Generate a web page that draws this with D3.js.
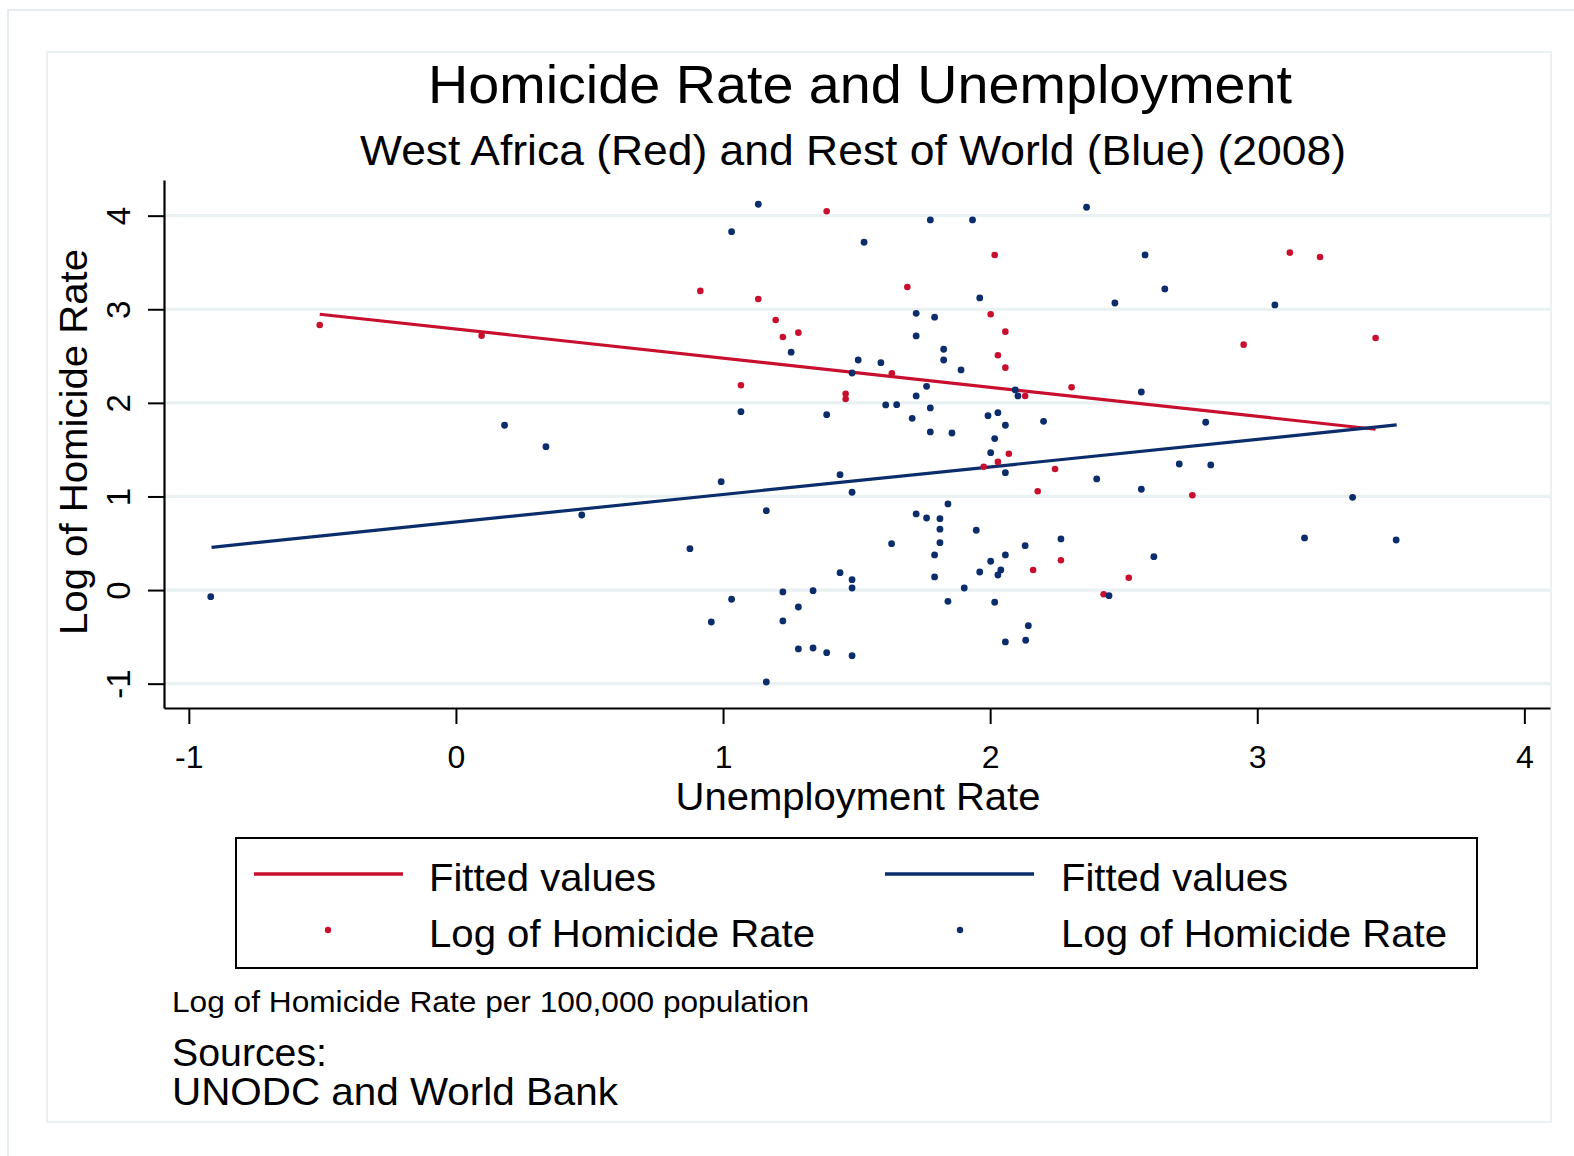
<!DOCTYPE html>
<html>
<head>
<meta charset="utf-8">
<script src="https://cdn.jsdelivr.net/npm/d3@7"></script>
<style>
  html, body { margin: 0; padding: 0; background: #ffffff; }
  svg { display: block; }
  text { font-family: "Liberation Sans", Arial, Helvetica, sans-serif; fill: #000; }
</style>
</head>
<body>
<svg id="chart" width="1574" height="1156"></svg>
<script>
// ---------------- DATA ----------------
const titleText = "Homicide Rate and Unemployment";
const subtitleText = "West Africa (Red) and Rest of World (Blue) (2008)";
const xAxisTitle = "Unemployment Rate";
const yAxisTitle = "Log of Homicide Rate";
const legendLabels = ["Fitted values", "Log of Homicide Rate", "Fitted values", "Log of Homicide Rate"];
const noteLines = ["Log of Homicide Rate per 100,000 population", "Sources:", "UNODC and World Bank"];

const xTicks = [-1, 0, 1, 2, 3, 4];
const yTicks = [-1, 0, 1, 2, 3, 4];

// West Africa (red)
const redX = [-0.510, 0.096, 1.388, 2.017, 0.915, 1.132, 1.690, 1.197, 1.224, 1.282,
              2.002, 2.057, 2.029, 2.057, 1.632, 1.067, 2.305, 1.459, 1.459, 2.131,
              2.070, 2.029, 1.976, 2.243, 2.178, 2.265, 2.161, 3.122, 3.235, 2.949,
              3.443, 2.757, 2.519, 2.425];
const redY = [2.832, 2.718, 4.047, 3.580, 3.196, 3.110, 3.238, 2.886, 2.704, 2.750,
              2.947, 2.761, 2.509, 2.376, 2.316, 2.188, 2.167, 2.098, 2.042, 2.074,
              1.457, 1.369, 1.318, 1.294, 1.056, 0.318, 0.215, 3.605, 3.559, 2.622,
              2.693, 1.013, 0.132, -0.045];

// Rest of World (blue)
const blueX = [0.337, 0.182, 0.471, -0.918, 1.132, 1.032, 1.528, 1.776, 1.934, 2.361,
               1.961, 1.723, 1.792, 1.723, 1.255, 1.826, 1.826, 1.506, 1.591, 1.891,
               1.483, 1.762, 1.723, 2.094, 2.104, 1.609, 1.650, 1.776, 1.067, 1.388,
               1.708, 1.992, 2.029, 2.057, 2.200, 1.776, 1.857, 2.017, 2.002, 2.057,
               2.399, 0.993, 1.438, 1.483, 1.162, 1.842, 1.723, 1.762, 1.812, 1.812,
               1.948, 0.876, 1.631, 1.812, 1.792, 2.131, 2.265, 2.057, 2.002, 1.961,
               2.040, 2.029, 1.438, 1.483, 1.483, 1.792, 1.903, 1.032, 1.224, 1.337,
               1.282, 1.842, 2.017, 0.956, 1.224, 2.143, 2.057, 2.133, 1.282, 1.337,
               1.388, 1.483, 1.162, 2.580, 2.654, 2.467, 3.066, 2.566, 2.807, 2.708,
               2.826, 2.566, 3.357, 3.177, 3.520, 2.613, 2.445];
const blueY = [1.532, 1.761, 0.802, -0.071, 4.122, 3.829, 3.716, 3.954, 3.954, 4.090,
               3.121, 2.957, 2.915, 2.715, 2.541, 2.573, 2.458, 2.458, 2.429, 2.352,
               2.319, 2.177, 2.074, 2.138, 2.074, 1.978, 1.981, 1.946, 1.906, 1.874,
               1.835, 1.863, 1.895, 1.761, 1.803, 1.689, 1.678, 1.618, 1.468, 1.254,
               1.187, 1.158, 1.233, 1.045, 0.848, 0.920, 0.813, 0.770, 0.763, 0.650,
               0.639, 0.442, 0.496, 0.506, 0.375, 0.474, 0.546, 0.375, 0.308, 0.193,
               0.215, 0.161, 0.186, 0.111, 0.022, 0.140, 0.022, -0.098, -0.020, -0.006,
               -0.181, -0.120, -0.130, -0.341, -0.330, -0.380, -0.554, -0.536, -0.629, -0.619,
               -0.669, -0.701, -0.982, 3.580, 3.217, 3.067, 3.046, 2.116, 1.793, 1.347,
               1.337, 1.077, 0.991, 0.557, 0.535, 0.357, -0.060];

// Fitted values (end points)
const redFitX = [-0.510, 3.443];
const redFitY = [2.947, 1.718];
const blueFitX = [-0.915, 3.522];
const blueFitY = [0.457, 1.764];

// ---------------- STYLE ----------------
const RED = "#c8102e";
const BLUE = "#0b2d6b";
const GRID = "#e9f1f3";
const FRAME = "#e6edf0";

const svg = d3.select("#chart");

// background frames
svg.append("rect").attr("x", 0).attr("y", 0).attr("width", 1574).attr("height", 1156).attr("fill", "#fff");
svg.append("rect").attr("x", 8).attr("y", 10).attr("width", 1574).attr("height", 1160)
  .attr("fill", "#fff").attr("stroke", FRAME).attr("stroke-width", 2);
svg.append("rect").attr("x", 47).attr("y", 52).attr("width", 1504).attr("height", 1070)
  .attr("fill", "#fff").attr("stroke", FRAME).attr("stroke-width", 1.5);

// scales
const plot = { left: 164, right: 1550, top: 180, bottom: 708 };
const x = d3.scaleLinear().domain([-1.093, 4.096]).range([plot.left, plot.right]);
const y = d3.scaleLinear().domain([-1.26, 4.381]).range([plot.bottom, plot.top]);

// gridlines
svg.append("g").selectAll("line").data(yTicks).join("line")
  .attr("x1", plot.left).attr("x2", plot.right)
  .attr("y1", d => y(d)).attr("y2", d => y(d))
  .attr("stroke", GRID).attr("stroke-width", 3.2);

// fitted lines
const line = d3.line().x(d => x(d[0])).y(d => y(d[1]));
svg.append("path").datum(redFitX.map((v, i) => [v, redFitY[i]]))
  .attr("d", line).attr("fill", "none").attr("stroke", RED).attr("stroke-width", 3.2);
svg.append("path").datum(blueFitX.map((v, i) => [v, blueFitY[i]]))
  .attr("d", line).attr("fill", "none").attr("stroke", BLUE).attr("stroke-width", 3.2);

// points
svg.append("g").selectAll("circle").data(redX.map((v, i) => [v, redY[i]])).join("circle")
  .attr("cx", d => x(d[0])).attr("cy", d => y(d[1])).attr("r", 3.3).attr("fill", RED);
svg.append("g").selectAll("circle").data(blueX.map((v, i) => [v, blueY[i]])).join("circle")
  .attr("cx", d => x(d[0])).attr("cy", d => y(d[1])).attr("r", 3.4).attr("fill", BLUE);

// axes
const xAxis = svg.append("g").attr("transform", `translate(0,${plot.bottom})`)
  .call(d3.axisBottom(x).tickValues(xTicks).tickSize(16).tickSizeOuter(0).tickFormat(d => String(d)));
xAxis.select(".domain").attr("stroke", "#000").attr("stroke-width", 2.2);
xAxis.selectAll(".tick line").attr("stroke", "#000").attr("stroke-width", 2);
xAxis.selectAll(".tick text").attr("y", 60).attr("dy", 0)
  .attr("font-size", 32).attr("font-family", "Liberation Sans, Arial, sans-serif").attr("fill", "#000");

const yAxis = svg.append("g").attr("transform", `translate(${plot.left},0)`)
  .call(d3.axisLeft(y).tickValues(yTicks).tickSize(16).tickSizeOuter(0).tickFormat(d => String(d)));
yAxis.select(".domain").attr("stroke", "#000").attr("stroke-width", 2.2);
yAxis.selectAll(".tick line").attr("stroke", "#000").attr("stroke-width", 2);
yAxis.selectAll(".tick text")
  .attr("x", 0).attr("dy", 0).attr("text-anchor", "middle")
  .attr("transform", "translate(-34,0) rotate(-90)")
  .attr("font-size", 33).attr("font-family", "Liberation Sans, Arial, sans-serif").attr("fill", "#000");

// titles
svg.append("text").attr("x", 860).attr("y", 103).attr("text-anchor", "middle")
  .attr("font-size", 53).attr("textLength", 864).attr("lengthAdjust", "spacingAndGlyphs").text(titleText);
svg.append("text").attr("x", 853).attr("y", 165).attr("text-anchor", "middle")
  .attr("font-size", 43).attr("textLength", 986).attr("lengthAdjust", "spacingAndGlyphs").text(subtitleText);
svg.append("text").attr("x", 858).attr("y", 810).attr("text-anchor", "middle")
  .attr("font-size", 38).attr("textLength", 365).attr("lengthAdjust", "spacingAndGlyphs").text(xAxisTitle);
svg.append("text").attr("transform", "translate(87,442) rotate(-90)").attr("text-anchor", "middle")
  .attr("font-size", 39).attr("textLength", 386).attr("lengthAdjust", "spacingAndGlyphs").text(yAxisTitle);

// legend
const lg = svg.append("g");
lg.append("rect").attr("x", 236).attr("y", 838).attr("width", 1241).attr("height", 130)
  .attr("fill", "#fff").attr("stroke", "#000").attr("stroke-width", 2);
const legendItems = [
  { type: "line", color: RED, sx: 254, tx: 429, ty: 891, label: legendLabels[0], w: 227 },
  { type: "dot",  color: RED, sx: 328, tx: 429, ty: 947, label: legendLabels[1], w: 386 },
  { type: "line", color: BLUE, sx: 885, tx: 1061, ty: 891, label: legendLabels[2], w: 227 },
  { type: "dot",  color: BLUE, sx: 960, tx: 1061, ty: 947, label: legendLabels[3], w: 386 }
];
legendItems.forEach(it => {
  if (it.type === "line") {
    lg.append("line").attr("x1", it.sx).attr("x2", it.sx + 149).attr("y1", 874).attr("y2", 874)
      .attr("stroke", it.color).attr("stroke-width", 3.3);
  } else {
    lg.append("circle").attr("cx", it.sx).attr("cy", 930).attr("r", 3.2).attr("fill", it.color);
  }
  lg.append("text").attr("x", it.tx).attr("y", it.ty).attr("font-size", 39)
    .attr("textLength", it.w).attr("lengthAdjust", "spacingAndGlyphs").text(it.label);
});

// notes
svg.append("text").attr("x", 172).attr("y", 1012).attr("font-size", 30)
  .attr("textLength", 637).attr("lengthAdjust", "spacingAndGlyphs").text(noteLines[0]);
svg.append("text").attr("x", 172).attr("y", 1066).attr("font-size", 39)
  .attr("textLength", 155).attr("lengthAdjust", "spacingAndGlyphs").text(noteLines[1]);
svg.append("text").attr("x", 172).attr("y", 1105).attr("font-size", 39)
  .attr("textLength", 446).attr("lengthAdjust", "spacingAndGlyphs").text(noteLines[2]);
</script>
</body>
</html>
